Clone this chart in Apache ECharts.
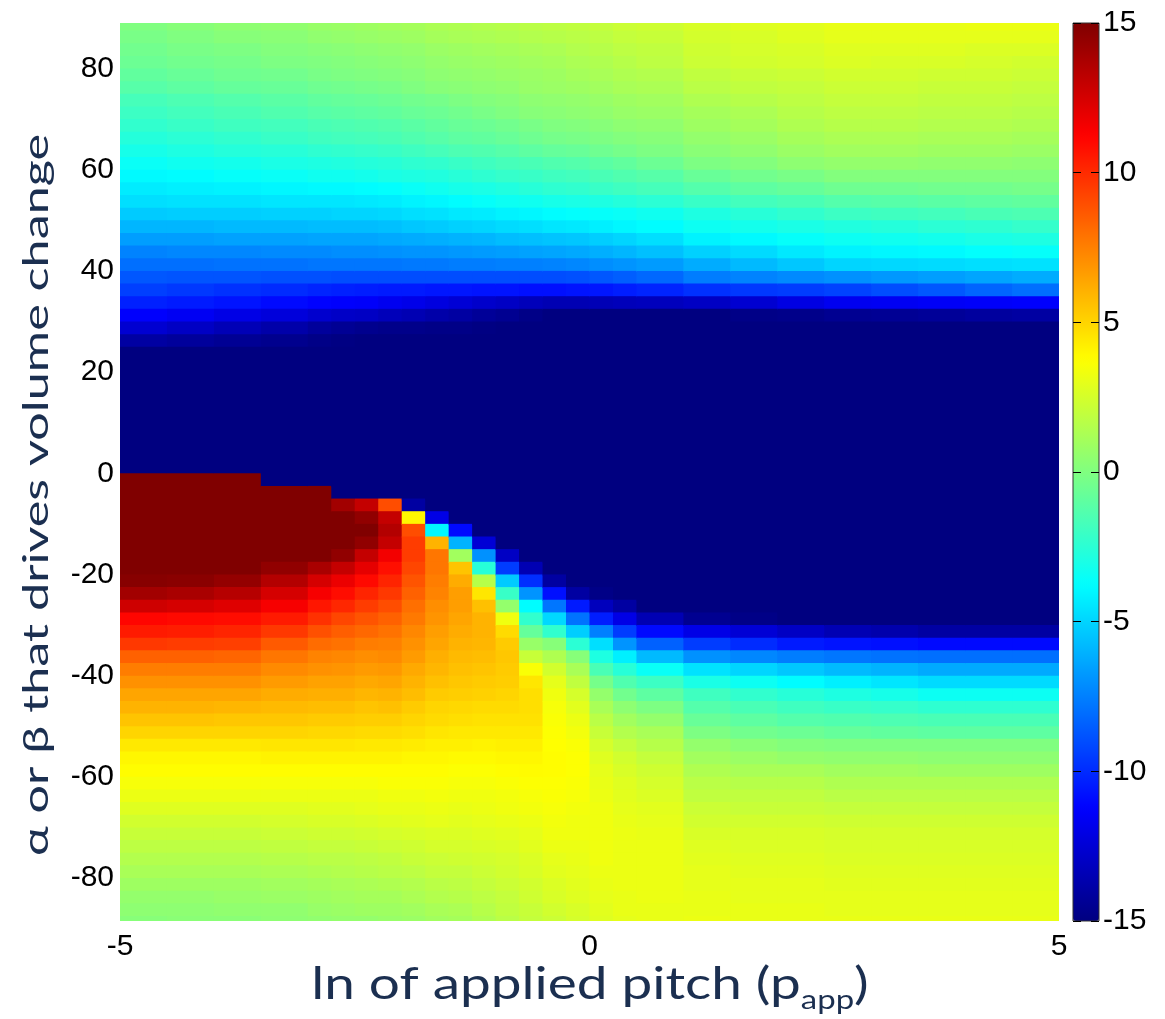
<!DOCTYPE html>
<html><head><meta charset="utf-8">
<script src="https://cdn.jsdelivr.net/npm/echarts@6/dist/echarts.min.js"></script>
<style>html,body{margin:0;padding:0;background:#fff}#c{width:1165px;height:1019px}</style>
</head><body><div id="c"></div>
<script>
// grid cell edges (ln of applied pitch; angle)
const xEdges = [-5,-4.5,-4,-3.5,-3,-2.75,-2.5,-2.25,-2,-1.75,-1.5,-1.25,-1,-0.75,-0.5,-0.25,0,0.25,0.5,1,1.5,2,2.5,3,3.5,4,4.5,5];
const yEdges = [90,87.5,85,82.5,80,77.5,75,72.5,70,67.5,65,62.5,60,57.5,55,52.5,50,47.5,45,42.5,40,37.5,35,32.5,30,27.5,25,22.5,20,17.5,15,12.5,10,7.5,5,2.5,0,-2.5,-5,-7.5,-10,-12.5,-15,-17.5,-20,-22.5,-25,-27.5,-30,-32.5,-35,-37.5,-40,-42.5,-45,-47.5,-50,-52.5,-55,-57.5,-60,-62.5,-65,-67.5,-70,-72.5,-75,-77.5,-80,-82.5,-85,-87.5,-90];

// values per column (left to right), each from top row (88.75) to bottom row (-88.75)
const zCol01 = [0,-0.2,-0.4,-0.6,-0.9,-1.2,-1.7,-2,-2.3,-2.7,-3.1,-3.5,-3.9,-4.3,-4.7,-5.3,-5.9,-6.6,-7.4,-8,-8.7,-9.4,-10.3,-11.3,-12.6,-14,-15,-15,-15,-15,-15,-15,-15,-15,-15,-15,15,15,15,15,15,15,15,15,14.8,14,12.7,11.1,10.5,9.6,8.4,7.6,7,6.4,6,5.5,5,4.4,4,3.8,3.5,3.2,2.8,2.4,2.1,1.8,1.5,1.2,0.9,0.6,0.4,0.2];
const zCol02 = [0.2,0,-0.2,-0.4,-0.7,-1,-1.5,-1.8,-2.1,-2.5,-2.9,-3.3,-3.8,-4.2,-4.6,-5.2,-5.9,-6.6,-7.3,-8,-8.8,-9.6,-10.5,-11.6,-13,-14.2,-15,-15,-15,-15,-15,-15,-15,-15,-15,-15,15,15,15,15,15,15,15,15,14.7,13.8,12.5,11,10.4,9.5,8.4,7.6,7,6.4,6,5.5,5,4.4,4,3.8,3.5,3.2,2.8,2.4,2.1,1.8,1.5,1.2,0.9,0.6,0.4,0.3];
const zCol03 = [0.4,0.2,-0.1,-0.3,-0.5,-0.8,-1.3,-1.6,-1.9,-2.3,-2.7,-3.2,-3.6,-4.1,-4.6,-5.2,-5.8,-6.5,-7.3,-7.9,-8.8,-9.8,-10.7,-12,-13.4,-14.4,-15,-15,-15,-15,-15,-15,-15,-15,-15,-15,15,15,15,15,15,15,15,15,14.4,13.4,12.2,10.9,10.2,9.4,8.3,7.6,7,6.4,5.9,5.4,5,4.4,4,3.8,3.5,3.2,2.8,2.4,2.1,1.8,1.5,1.2,0.9,0.7,0.5,0.3];
const zCol04 = [0.5,0.3,0.1,-0.1,-0.4,-0.7,-1.1,-1.4,-1.8,-2.1,-2.6,-3,-3.5,-4,-4.5,-5.1,-5.8,-6.5,-7.2,-7.9,-8.9,-10,-11,-12.3,-13.8,-14.6,-15,-15,-15,-15,-15,-15,-15,-15,-15,-15,-15,15,15,15,15,15,15,14.5,13.5,12.5,11.5,10.5,9.6,8.6,7.8,7.2,6.7,6.2,5.8,5.4,5,4.5,4.1,3.8,3.5,3.2,2.8,2.5,2.2,1.9,1.6,1.3,1,0.8,0.5,0.4];
const zCol05 = [0.7,0.5,0.2,0,-0.2,-0.5,-0.9,-1.2,-1.6,-1.9,-2.4,-2.9,-3.3,-3.9,-4.5,-5.1,-5.7,-6.4,-7.2,-7.8,-8.9,-10.2,-11.2,-12.7,-14.2,-14.8,-15,-15,-15,-15,-15,-15,-15,-15,-15,-15,-15,15,15,15,15,15,15,13.8,12.5,11.5,10.6,9.8,8.9,8.1,7.4,7,6.5,6.1,5.7,5.3,4.9,4.5,4.1,3.8,3.5,3.2,2.9,2.6,2.3,2,1.7,1.4,1.1,0.9,0.7,0.5];
const zCol06 = [0.8,0.6,0.3,0.1,-0.1,-0.4,-0.8,-1.1,-1.5,-1.8,-2.3,-2.8,-3.3,-3.9,-4.5,-5,-5.7,-6.4,-7.1,-7.8,-9,-10.3,-11.3,-12.9,-14.4,-14.9,-15,-15,-15,-15,-15,-15,-15,-15,-15,-15,-15,-15,14,15,15,15,14.5,13,11.8,10.9,10.1,9.2,8.5,7.9,7.3,6.9,6.5,6.1,5.7,5.3,4.9,4.5,4.1,3.8,3.5,3.2,2.9,2.6,2.3,2,1.7,1.5,1.2,1,0.8,0.6];
const zCol07 = [0.9,0.7,0.4,0.2,0,-0.3,-0.7,-1,-1.4,-1.7,-2.2,-2.7,-3.2,-3.8,-4.4,-5,-5.7,-6.4,-7.1,-7.8,-9,-10.4,-11.4,-13,-14.6,-15,-15,-15,-15,-15,-15,-15,-15,-15,-15,-15,-15,-15,13,14.5,15,14.5,13,12,11,10.2,9.5,8.8,8.2,7.6,7.1,6.7,6.3,5.9,5.5,5.2,4.8,4.4,4.1,3.8,3.5,3.2,3,2.7,2.4,2.1,1.8,1.6,1.3,1.1,0.9,0.6];
const zCol08 = [1,0.8,0.5,0.3,0.1,-0.2,-0.6,-0.9,-1.3,-1.6,-2.1,-2.6,-3,-3.7,-4.3,-4.9,-5.6,-6.3,-7,-7.8,-9,-10.5,-11.7,-13.3,-14.7,-15,-15,-15,-15,-15,-15,-15,-15,-15,-15,-15,-15,-15,9,13,13.5,13,11.6,10.8,10.2,9.6,9,8.4,7.9,7.5,7.2,6.8,6.4,6,5.6,5.2,4.8,4.4,4.1,3.8,3.6,3.3,3.1,2.8,2.5,2.2,1.9,1.7,1.4,1.1,0.9,0.7];
const zCol09 = [1.1,0.9,0.6,0.4,0.2,0,-0.4,-0.7,-1.1,-1.4,-1.9,-2.4,-2.9,-3.5,-4.1,-4.7,-5.4,-6.2,-6.9,-7.7,-9,-10.5,-11.9,-13.5,-14.7,-15,-15,-15,-15,-15,-15,-15,-15,-15,-15,-15,-15,-15,-14,4,9,9.5,9.5,9.2,8.8,8.4,8,7.7,7.3,7,6.7,6.3,6,5.7,5.3,5,4.7,4.3,4,3.8,3.6,3.3,3.1,2.9,2.6,2.3,2.1,1.8,1.5,1.3,1,0.8];
const zCol10 = [1.3,1.1,0.8,0.6,0.4,0.2,-0.3,-0.6,-0.9,-1.2,-1.7,-2.3,-2.8,-3.3,-4,-4.6,-5.3,-6.1,-6.9,-7.7,-9,-10.6,-12.2,-13.8,-14.8,-15,-15,-15,-15,-15,-15,-15,-15,-15,-15,-15,-15,-15,-15,-12,-4,6,7.8,7.8,7.6,7.4,7.1,6.9,6.6,6.4,6.1,5.9,5.6,5.3,5,4.8,4.5,4.2,4,3.8,3.6,3.4,3.2,3,2.7,2.5,2.2,2,1.7,1.5,1.2,1];
const zCol11 = [1.4,1.2,0.9,0.7,0.5,0.3,-0.1,-0.4,-0.7,-1,-1.5,-2.1,-2.6,-3.1,-3.8,-4.4,-5.1,-6,-6.8,-7.6,-9,-10.6,-12.5,-14,-14.8,-15,-15,-15,-15,-15,-15,-15,-15,-15,-15,-15,-15,-15,-15,-15,-11,-6,1,5.5,6.2,6.6,6.6,6.4,6.2,6,5.8,5.6,5.4,5.2,4.9,4.7,4.4,4.2,3.9,3.7,3.5,3.3,3.1,2.9,2.7,2.5,2.3,2,1.8,1.6,1.3,1.1];
const zCol12 = [1.5,1.3,1,0.8,0.6,0.4,0.1,-0.2,-0.6,-0.9,-1.4,-1.9,-2.4,-3,-3.6,-4.3,-5,-5.9,-6.7,-7.6,-9,-10.7,-12.8,-14.3,-14.9,-15,-15,-15,-15,-15,-15,-15,-15,-15,-15,-15,-15,-15,-15,-15,-15,-12.5,-7,-2.6,1.6,4.5,5.6,6,6,5.9,5.7,5.5,5.3,5.1,4.8,4.6,4.4,4.1,3.9,3.7,3.5,3.3,3.2,3,2.8,2.6,2.4,2.2,2,1.8,1.6,1.4];
const zCol13 = [1.6,1.4,1.1,0.9,0.7,0.5,0.2,0,-0.4,-0.7,-1.2,-1.7,-2.2,-2.8,-3.4,-4.1,-4.8,-5.7,-6.6,-7.5,-9,-10.7,-13,-14.5,-15,-15,-15,-15,-15,-15,-15,-15,-15,-15,-15,-15,-15,-15,-15,-15,-15,-15,-13,-9.5,-5.3,-2.1,0.6,3.3,4.8,5.3,5.4,5.3,5.2,5,4.8,4.6,4.4,4.2,4,3.8,3.6,3.4,3.3,3.1,2.9,2.7,2.5,2.4,2.2,2,1.9,1.7];
const zCol14 = [1.7,1.5,1.2,1,0.8,0.7,0.4,0.2,-0.2,-0.5,-1,-1.6,-2.1,-2.6,-3.3,-4,-4.7,-5.6,-6.5,-7.5,-9,-10.8,-13.3,-14.8,-15,-15,-15,-15,-15,-15,-15,-15,-15,-15,-15,-15,-15,-15,-15,-15,-15,-15,-15,-13.5,-9.9,-6.9,-3.8,-2.3,-0.8,0.7,2.1,3.6,4.5,4.7,4.7,4.6,4.4,4.2,4,3.85,3.7,3.5,3.4,3.2,3,2.9,2.7,2.6,2.4,2.3,2.1,2];
const zCol15 = [1.8,1.6,1.3,1.1,0.9,0.8,0.5,0.3,0,-0.3,-0.8,-1.4,-1.9,-2.4,-3.1,-3.8,-4.5,-5.5,-6.4,-7.4,-9,-10.8,-13.5,-15,-15,-15,-15,-15,-15,-15,-15,-15,-15,-15,-15,-15,-15,-15,-15,-15,-15,-15,-15,-15,-14,-10.8,-7.8,-4.9,-2.3,0.2,1.4,2.4,3,3.3,3.5,3.6,3.7,3.75,3.8,3.8,3.7,3.6,3.5,3.4,3.3,3.2,3,2.9,2.7,2.6,2.4,2.2];
const zCol16 = [1.9,1.7,1.5,1.3,1.1,0.9,0.6,0.4,0.1,-0.2,-0.7,-1.3,-1.8,-2.3,-3,-3.7,-4.4,-5.4,-6.3,-7.3,-8.9,-10.7,-13.5,-15,-15,-15,-15,-15,-15,-15,-15,-15,-15,-15,-15,-15,-15,-15,-15,-15,-15,-15,-15,-15,-15,-14,-10.5,-7.9,-5.2,-2.5,0.2,1.2,1.9,2.5,2.9,3.2,3.4,3.6,3.7,3.7,3.6,3.5,3.4,3.3,3.3,3.2,3.1,3,2.9,2.8,2.6,2.5];
const zCol17 = [2,1.8,1.6,1.4,1.2,1,0.7,0.5,0.2,-0.1,-0.5,-1.1,-1.6,-2.1,-2.9,-3.6,-4.2,-5.2,-6.1,-7.1,-8.7,-10.6,-13.4,-15,-15,-15,-15,-15,-15,-15,-15,-15,-15,-15,-15,-15,-15,-15,-15,-15,-15,-15,-15,-15,-15,-14.8,-13.2,-10.4,-7.5,-4.7,-2.9,-1.6,-0.3,0.6,1.2,1.7,2.1,2.5,2.8,3,3.1,3.2,3.3,3.3,3.3,3.3,3.3,3.2,3.1,3,2.9,2.8];
const zCol18 = [2.2,2,1.8,1.6,1.4,1.2,0.9,0.7,0.4,0.1,-0.3,-0.9,-1.4,-1.9,-2.7,-3.5,-4,-5,-5.9,-6.9,-8.5,-10.4,-13.3,-15,-15,-15,-15,-15,-15,-15,-15,-15,-15,-15,-15,-15,-15,-15,-15,-15,-15,-15,-15,-15,-15,-15,-14,-12,-9.5,-6.9,-4.2,-2.6,-1.4,-0.4,0.4,1,1.5,2,2.4,2.6,2.8,2.9,3,3.1,3.2,3.2,3.2,3.2,3.2,3.1,3.1,3];
const zCol19 = [2.3,2.1,1.9,1.8,1.5,1.3,1,0.8,0.5,0.2,-0.1,-0.6,-1.2,-1.7,-2.5,-3.3,-3.8,-4.7,-5.6,-6.7,-8.2,-10.2,-13.2,-15,-15,-15,-15,-15,-15,-15,-15,-15,-15,-15,-15,-15,-15,-15,-15,-15,-15,-15,-15,-15,-15,-15,-15,-13.5,-11,-8.4,-5.8,-3.5,-2,-1,-0.1,0.6,1.2,1.6,2,2.3,2.5,2.7,2.9,3,3.1,3.2,3.2,3.2,3.2,3.2,3.1,3.1];
const zCol20 = [2.6,2.45,2.3,2.2,1.9,1.7,1.4,1.1,0.9,0.6,0.3,-0.1,-0.7,-1.3,-2.1,-2.9,-3.4,-4.1,-5.1,-6.2,-7.6,-9.8,-13,-15,-15,-15,-15,-15,-15,-15,-15,-15,-15,-15,-15,-15,-15,-15,-15,-15,-15,-15,-15,-15,-15,-15,-15,-14.5,-12,-9.5,-7,-4.6,-3,-1.9,-1.3,-0.7,-0.1,0.6,1,1.4,1.7,1.9,2.2,2.4,2.6,2.8,2.9,3,3,3.1,3.1,3.2];
const zCol21 = [2.8,2.6,2.5,2.4,2.1,1.9,1.6,1.3,1.1,0.8,0.5,0.1,-0.4,-1,-1.8,-2.6,-3.2,-3.9,-4.8,-5.8,-7.4,-9.6,-12.6,-14.8,-15,-15,-15,-15,-15,-15,-15,-15,-15,-15,-15,-15,-15,-15,-15,-15,-15,-15,-15,-15,-15,-15,-15,-14.8,-12.5,-10,-7.3,-5,-3.4,-2.3,-1.6,-1,-0.4,0.3,0.8,1.2,1.6,1.9,2.1,2.4,2.6,2.7,2.8,2.9,3,3,3.1,3.1];
const zCol22 = [2.9,2.8,2.6,2.5,2.2,2,1.8,1.6,1.4,1.1,0.8,0.4,-0.2,-0.8,-1.6,-2.3,-3,-3.6,-4.4,-5.4,-7.2,-9.5,-12.1,-14.7,-15,-15,-15,-15,-15,-15,-15,-15,-15,-15,-15,-15,-15,-15,-15,-15,-15,-15,-15,-15,-15,-15,-15,-15,-13,-10.5,-7.6,-5.4,-3.8,-2.6,-1.9,-1.3,-0.6,0.1,0.6,1.2,1.6,1.9,2.1,2.4,2.6,2.7,2.8,2.9,3,3,3.1,3.1];
const zCol23 = [3.1,3,2.8,2.7,2.4,2.2,2,1.8,1.6,1.3,1,0.6,0.1,-0.5,-1.3,-2,-2.8,-3.4,-4.1,-5,-7,-9.3,-11.7,-14.5,-15,-15,-15,-15,-15,-15,-15,-15,-15,-15,-15,-15,-15,-15,-15,-15,-15,-15,-15,-15,-15,-15,-15,-15,-13.5,-10.7,-7.8,-5.8,-4.2,-2.9,-2.1,-1.4,-0.8,0,0.5,1,1.4,1.7,2,2.3,2.5,2.6,2.7,2.8,2.9,3,3,3.1];
const zCol24 = [3.1,3,2.8,2.6,2.4,2.2,2,1.8,1.6,1.3,1,0.6,0.1,-0.5,-1.2,-1.9,-2.7,-3.3,-4,-4.9,-6.8,-9,-11.6,-14.4,-15,-15,-15,-15,-15,-15,-15,-15,-15,-15,-15,-15,-15,-15,-15,-15,-15,-15,-15,-15,-15,-15,-15,-15,-13.7,-10.8,-7.9,-6,-4.5,-3.1,-2.2,-1.5,-0.9,0,0.5,1,1.4,1.7,2,2.3,2.5,2.6,2.7,2.8,2.9,3,3,3.1];
const zCol25 = [3.1,3,2.8,2.6,2.3,2.1,1.9,1.7,1.5,1.2,0.9,0.5,0.1,-0.4,-1.1,-1.8,-2.5,-3.2,-3.9,-4.8,-6.6,-8.7,-11.5,-14.3,-15,-15,-15,-15,-15,-15,-15,-15,-15,-15,-15,-15,-15,-15,-15,-15,-15,-15,-15,-15,-15,-15,-15,-15,-14,-11,-8,-6.3,-4.8,-3.4,-2.4,-1.6,-1,0,0.4,0.9,1.4,1.7,2,2.3,2.5,2.6,2.7,2.8,2.9,3,3,3.1];
const zCol26 = [3.2,3,2.7,2.5,2.3,2.1,1.9,1.7,1.5,1.2,0.9,0.5,0.1,-0.4,-1,-1.6,-2.4,-3,-3.7,-4.7,-6.4,-8.3,-11.4,-14.1,-15,-15,-15,-15,-15,-15,-15,-15,-15,-15,-15,-15,-15,-15,-15,-15,-15,-15,-15,-15,-15,-15,-15,-15,-14,-11,-8,-6.3,-4.8,-3.4,-2.4,-1.6,-1,0,0.4,0.9,1.4,1.7,2,2.3,2.5,2.6,2.7,2.8,2.9,3,3,3.1];
const zCol27 = [3.2,3,2.7,2.4,2.2,2,1.8,1.6,1.4,1.1,0.8,0.4,0.1,-0.3,-0.9,-1.5,-2.2,-2.9,-3.6,-4.6,-6.2,-8,-11.3,-14,-15,-15,-15,-15,-15,-15,-15,-15,-15,-15,-15,-15,-15,-15,-15,-15,-15,-15,-15,-15,-15,-15,-15,-15,-14,-11,-8,-6.3,-4.8,-3.4,-2.4,-1.6,-1,0,0.4,0.9,1.4,1.7,2,2.3,2.5,2.6,2.7,2.8,2.9,3,3,3.1];

const columns = [zCol01,zCol02,zCol03,zCol04,zCol05,zCol06,zCol07,zCol08,zCol09,zCol10,zCol11,zCol12,zCol13,zCol14,zCol15,zCol16,zCol17,zCol18,zCol19,zCol20,zCol21,zCol22,zCol23,zCol24,zCol25,zCol26,zCol27];

const yTickLabels = [-80,-60,-40,-20,0,20,40,60,80];
const xTickLabels = [-5,0,5];
const colorbarTicks = [-15,-10,-5,0,5,10,15];
const jetColors = ['#000080','#0000ff','#0080ff','#00ffff','#80ff80','#ffff00','#ff8000','#ff0000','#800000'];

// [xLow, xHigh, yLow, yHigh, value]
const data = [];
columns.forEach((col, i) => {
  if (col.length !== yEdges.length - 1) console.error('column', i + 1, 'has', col.length, 'values');
  col.forEach((v, j) => {
    if (j < yEdges.length - 1) data.push([xEdges[i], xEdges[i + 1], yEdges[j + 1], yEdges[j], v]);
  });
});

const chart = echarts.init(document.getElementById('c'), null, {renderer: 'canvas'});
const tickFont = {fontFamily: 'Liberation Sans', fontSize: 30, color: '#000'};
chart.setOption({
  animation: false,
  backgroundColor: '#fff',
  grid: [
    {left: 120, top: 23, width: 939, height: 898},
    {left: 1073, top: 23, width: 26, height: 898, show: true, borderColor: '#333', borderWidth: 1, backgroundColor: 'transparent', z: 10}
  ],
  xAxis: [
    {type: 'value', gridIndex: 0, min: -5, max: 5, interval: 5,
     axisLine: {show: false}, axisTick: {show: false}, splitLine: {show: false},
     axisLabel: Object.assign({margin: 11, customValues: xTickLabels}, tickFont)},
    {type: 'value', gridIndex: 1, min: 0, max: 1, show: false}
  ],
  yAxis: [
    {type: 'value', gridIndex: 0, min: -88.5, max: 89,
     axisLine: {show: false}, axisTick: {show: false}, splitLine: {show: false},
     axisLabel: Object.assign({margin: 6, customValues: yTickLabels}, tickFont)},
    {type: 'value', gridIndex: 1, min: -15, max: 15, interval: 5, position: 'left', z: 10,
     axisLine: {show: false}, splitLine: {show: false}, axisLabel: {show: false},
     axisTick: {show: true, inside: true, length: 8, lineStyle: {color: '#000', width: 1}}},
    {type: 'value', gridIndex: 1, min: -15, max: 15, interval: 5, position: 'right', z: 10,
     axisLine: {show: false}, splitLine: {show: false},
     axisTick: {show: true, inside: true, length: 8, lineStyle: {color: '#000', width: 1}},
     axisLabel: Object.assign({margin: 4, customValues: colorbarTicks}, tickFont)}
  ],
  visualMap: {
    type: 'continuous', min: -15, max: 15, dimension: 4, seriesIndex: 0,
    orient: 'vertical', left: 1073, top: 23, itemWidth: 26, itemHeight: 898,
    padding: 0, calculable: false, hoverLink: false, showLabel: false,
    inRange: {color: jetColors}
  },
  graphic: [
    {type: 'text', x: 590, y: 984, scaleX: 1.22, z: 20,
     style: {text: 'ln of applied pitch (p{sub|app})', fontFamily: 'Lato', fontSize: 45, lineHeight: 60,
       fill: '#1b2f50', align: 'center', verticalAlign: 'middle',
       rich: {sub: {fontFamily: 'Lato', fontSize: 27, lineHeight: 27, fill: '#1b2f50', verticalAlign: 'bottom'}}}},
    {type: 'text', x: 37, y: 495, rotation: Math.PI / 2, scaleX: 1.48, z: 20,
     style: {text: 'α or β that drives volume change', fontFamily: 'Lato', fontSize: 34,
       fill: '#1b2f50', align: 'center', verticalAlign: 'middle'}}
  ],
  series: [{
    type: 'custom', xAxisIndex: 0, yAxisIndex: 0, clip: true,
    encode: {x: [0, 1], y: [2, 3]},
    data: data,
    renderItem: function (params, api) {
      const p0 = api.coord([api.value(0), api.value(3)]);
      const p1 = api.coord([api.value(1), api.value(2)]);
      return {type: 'rect',
        shape: {x: p0[0], y: p0[1], width: p1[0] - p0[0] + 1, height: p1[1] - p0[1] + 1},
        style: {fill: api.visual('color')}};
    }
  }]
});
</script></body></html>
